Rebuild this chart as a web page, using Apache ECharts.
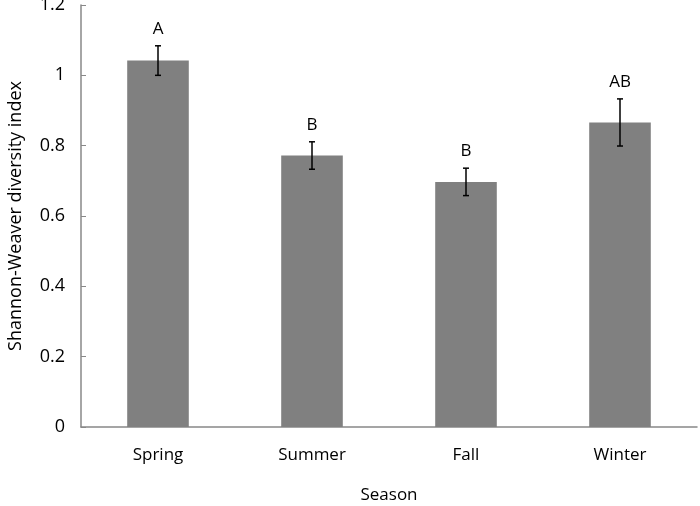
<!DOCTYPE html>
<html>
<head>
<meta charset="utf-8">
<script src="https://cdn.jsdelivr.net/npm/echarts@6/dist/echarts.min.js"></script>
<style>html,body{margin:0;padding:0;background:#fff}#c{width:700px;height:506px}</style>
</head>
<body>
<div id="c"></div>
<script>
const categories = ['Spring', 'Summer', 'Fall', 'Winter'];
const means = [1.042, 0.772, 0.697, 0.866];
const errors = [0.042, 0.039, 0.039, 0.067];
const letters = ['A', 'B', 'B', 'AB'];
const yTicks = [0, 0.2, 0.4, 0.6, 0.8, 1, 1.2];

const FONT = '"Open Sans", "Noto Sans", sans-serif';
const chart = echarts.init(document.getElementById('c'), null, {renderer: 'canvas'});

const errData = categories.map((c, i) => [i, means[i] - errors[i], means[i] + errors[i], letters[i]]);

chart.setOption({
  animation: false,
  grid: {left: 81, right: 3, top: 5, bottom: 79, containLabel: false, outerBoundsMode: 'none'},
  xAxis: {
    type: 'category',
    data: categories,
    name: 'Season',
    nameLocation: 'middle',
    nameGap: 60,
    nameTextStyle: {color: '#000', fontSize: 17, fontFamily: FONT},
    axisLine: {lineStyle: {color: '#888', width: 1.5}},
    axisTick: {inside: true, length: 7, lineStyle: {color: '#888'}, alignWithLabel: false},
    axisLabel: {color: '#000', fontSize: 17, fontFamily: FONT, margin: 20}
  },
  yAxis: {
    type: 'value',
    min: 0, max: 1.2, interval: 0.2,
    name: 'Shannon-Weaver diversity index',
    nameLocation: 'middle',
    nameGap: 56,
    nameTextStyle: {color: '#000', fontSize: 18, fontFamily: FONT},
    axisLine: {show: true, lineStyle: {color: '#888', width: 1.5}},
    axisTick: {show: true, inside: true, length: 5, lineStyle: {color: '#888'}},
    splitLine: {show: false},
    axisLabel: {color: '#000', fontSize: 18, fontFamily: FONT, margin: 16,
      formatter: v => { const t = yTicks.find(x => Math.abs(x - v) < 1e-9); return t === undefined ? '' : String(t); }}
  },
  series: [
    {
      type: 'bar',
      data: means,
      barWidth: '40%',
      itemStyle: {color: '#808080'}
    },
    {
      type: 'custom',
      data: errData,
      z: 10,
      renderItem: function (params, api) {
        const x = api.value(0);
        const lo = api.coord([x, api.value(1)]);
        const hi = api.coord([x, api.value(2)]);
        const cap = 3;
        const style = {stroke: '#000', lineWidth: 1.5};
        return {
          type: 'group',
          children: [
            {type: 'line', shape: {x1: hi[0], y1: hi[1], x2: lo[0], y2: lo[1]}, style: style},
            {type: 'line', shape: {x1: hi[0] - cap, y1: hi[1], x2: hi[0] + cap, y2: hi[1]}, style: style},
            {type: 'line', shape: {x1: lo[0] - cap, y1: lo[1], x2: lo[0] + cap, y2: lo[1]}, style: style},
            {type: 'text', style: {text: letters[params.dataIndex], x: hi[0], y: hi[1] - 17,
              align: 'center', verticalAlign: 'middle', fill: '#000', fontSize: 17, fontFamily: FONT}}
          ]
        };
      }
    }
  ]
});
</script>
</body>
</html>
